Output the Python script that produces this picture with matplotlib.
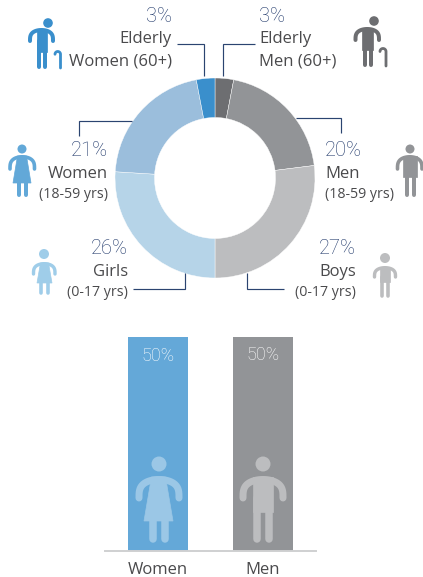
import matplotlib
matplotlib.use("Agg")
import matplotlib.pyplot as plt
import numpy as np
from matplotlib.patches import Circle, Polygon

W, H = 423, 577
NAVY = "#1c3568"
DARK = "#4a4a4c"
PCT_FONT = dict(family=["Roboto", "DejaVu Sans"], fontweight="light")

# ---- data ----
groups = ["Elderly Men", "Men", "Boys", "Girls", "Women", "Elderly Women"]
shares = [3, 20, 27, 26, 21, 3]
donut_colors = ["#6d6e71", "#929497", "#bcbdbf", "#b6d4e8", "#9bbedc", "#3a8fcc"]
bar_categories = ["Women", "Men"]
bar_values = [50, 50]
bar_colors = ["#64a8d8", "#929497"]

plt.rcParams["font.family"] = ["Open Sans", "DejaVu Sans"]
fig = plt.figure(figsize=(W / 100, H / 100), dpi=100, facecolor="white")


def box(l, t, r, b):
    return [l / W, (H - b) / H, (r - l) / W, (b - t) / H]


# donut
axp = fig.add_axes(box(115, 78, 315, 278))
axp.pie(shares, colors=donut_colors, startangle=90, counterclock=False, radius=1,
        wedgeprops=dict(width=0.395, edgecolor="white", linewidth=0.3))
axp.set_xlim(-1, 1)
axp.set_ylim(-1, 1)

# bars
axb = fig.add_axes(box(105, 337, 316, 551))
xpos = np.arange(len(bar_categories))
bars = axb.bar(xpos, bar_values, width=60 / 105, color=bar_colors, zorder=1)
axb.set_xlim(-53 / 105, 1 + 53 / 105)
axb.set_ylim(0, 50)
axb.set_xticks(xpos, bar_categories, fontsize=12, color=DARK)
axb.tick_params(axis="x", length=0, pad=8)
axb.set_yticks([])
for s in ["top", "left", "right"]:
    axb.spines[s].set_visible(False)
axb.spines["bottom"].set_color("#cfd0d1")
axb.spines["bottom"].set_linewidth(1.4)
axb.patch.set_alpha(0)
for x, v, dy in zip(xpos, bar_values, [0.0, 0.4]):
    axb.text(x, v - 4.5 + dy, f"{v}%", ha="center", va="center", color="white",
             fontsize=13, **PCT_FONT)

# overlay in pixel coordinates
ov = fig.add_axes([0, 0, 1, 1], zorder=5)
ov.set_xlim(0, W)
ov.set_ylim(H, 0)
ov.axis("off")
ov.patch.set_alpha(0)


def leader(xs, ys):
    ov.plot(xs, ys, color="#2b4470", lw=0.85, solid_joinstyle="miter", solid_capstyle="butt")


leader([177, 204, 204], [44, 44, 76])
leader([255, 223, 223], [44, 44, 76])
leader([79, 79, 132], [136, 121, 121])
leader([341, 341, 296], [133, 118, 118])
leader([133, 185, 185], [289, 289, 273])
leader([284, 247, 247], [289, 289, 273])


def label(x, ha, ys, pct, name, sub, sub_size=10.2):
    ov.text(x, ys[0], pct, ha=ha, va="center", color=NAVY, fontsize=14.5, **PCT_FONT)
    ov.text(x, ys[1], name, ha=ha, va="center", color=DARK, fontsize=12)
    ov.text(x, ys[2], sub, ha=ha, va="center", color=DARK, fontsize=sub_size)


label(172, "right", (17, 39, 62), "3%", "Elderly", "Women (60+)", 12)
label(259, "left", (16, 39, 61), "3%", "Elderly", "Men (60+)", 12)
label(108, "right", (151, 174, 194), "21%", "Women", "(18-59 yrs)")
label(325, "left", (151, 174, 194), "20%", "Men", "(18-59 yrs)")
label(128, "right", (249, 272, 292), "26%", "Girls", "(0-17 yrs)")
label(356, "right", (249, 272, 292), "27%", "Boys", "(0-17 yrs)")


def stroke(xs, ys, c, w):
    ov.plot(xs, ys, color=c, lw=w * 0.72, solid_capstyle="round", solid_joinstyle="round")


def person(hx, hy, r, xl, xr, top, arm_end, bot, c, dress=None, body=None, legs=None, aw=3.5, lw=None):
    ov.add_patch(Circle((hx, hy), r, fc=c, ec="none"))
    xm = (xl + xr) / 2
    a = (xr - xl) / 2
    t = np.linspace(np.pi, 0, 40)
    ys = arm_end - (arm_end - top - aw / 2) * np.sin(t) ** 0.6
    stroke(xm + a * np.cos(t), ys, c, aw)
    lw = lw or aw
    for lx in legs:
        stroke([lx, lx], [arm_end, bot - lw / 2], c, lw)
    if dress:
        x0, x1, yb, wt = dress
        cx = (x0 + x1) / 2
        ov.add_patch(Polygon([(cx - wt, top + 1), (cx + wt, top + 1), (x1, yb), (x0, yb)], fc=c, ec=c, lw=0.5))
    if body:
        x0, x1, yb = body
        ov.add_patch(Polygon([(x0, top + 1), (x1, top + 1), (x1, yb), (x0, yb)], fc=c, ec=c, lw=0.5))


def cane(x, top, bot, hook, c, w=2.8):
    r = (x - hook) / 2
    t = np.linspace(np.pi, 0, 16)
    xs = list(hook + r + r * np.cos(t)) + [x]
    ys = list(top + r - r * np.sin(t) + 1.5) + [bot]
    stroke(xs, ys, c, w)


EW = donut_colors[5]
person(48, 23, 4.8, 30, 53, 28, 41, 69, EW, body=(36.5, 47, 52), legs=[38.5, 45], aw=4, lw=4)
cane(60.5, 50, 68, 55, EW)
EM = donut_colors[0]
person(374, 21, 4.8, 355.5, 379, 27, 40, 67, EM, body=(362, 373, 50), legs=[364.5, 371], aw=4, lw=4)
cane(386, 47, 66, 380, EM)
person(22, 149, 4.5, 10, 34.5, 155, 169, 197, "#62a8d8", dress=(13, 31, 183, 4.5), legs=[18.5, 25.5], aw=3.6, lw=4)
person(410, 149, 4.5, 397.5, 422, 155, 169, 197, "#929497", body=(403, 417, 177), legs=[406.5, 413.5], aw=3.6, lw=4)
person(44, 254, 5, 33.5, 55, 262, 274, 295, "#9fcde9", dress=(37, 52, 283, 4), legs=[41, 47.5], aw=3.4, lw=3.6)
person(385, 258, 5, 374.5, 395.5, 266, 277, 298, "#bcbdbf", body=(380, 390, 282), legs=[382, 388], aw=3.4, lw=3.6)
person(159, 464, 7.5, 139, 179, 476, 498, 543, "#9bc7e6", dress=(144, 173, 521, 7), legs=[153, 165], aw=7, lw=7.5)
person(263, 464, 7.5, 243, 283, 476, 498, 543, "#bcbdbf", body=(253, 273, 512), legs=[257, 269], aw=7, lw=7.5)

fig.savefig("out.png", dpi=100, facecolor="white")
